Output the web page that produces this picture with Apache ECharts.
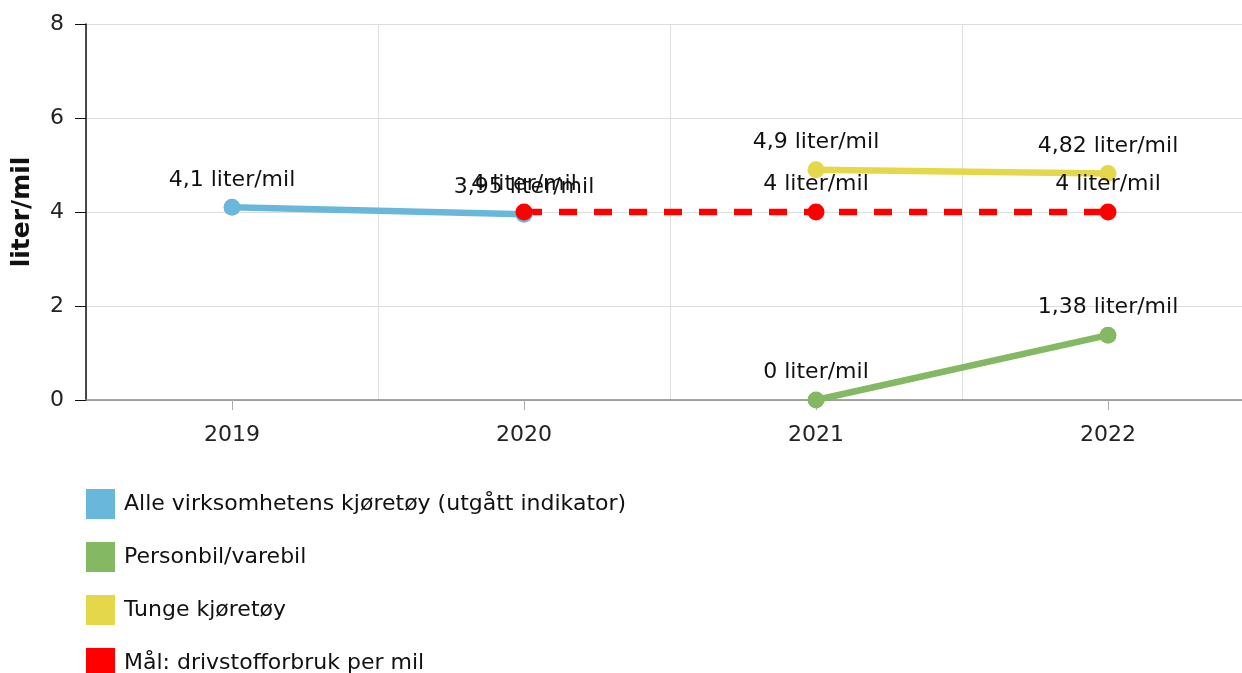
<!DOCTYPE html>
<html>
<head>
<meta charset="utf-8">
<script src="https://cdn.jsdelivr.net/npm/echarts@6/dist/echarts.min.js"></script>
<style>html,body{margin:0;padding:0;background:#fff}#c{width:1242px;height:673px}</style>
</head>
<body>
<div id="c"></div>
<script>
const categories = ['2019', '2020', '2021', '2022'];
const alleValues = [4.1, 3.95, null, null];
const personbilValues = [null, null, 0, 1.38];
const tungeValues = [null, null, 4.9, 4.82];
const maalValues = [null, 4, 4, 4];
const yTicks = [0, 2, 4, 6, 8];
const unit = 'liter/mil';

const FONT = 'DejaVu Sans';
const chart = echarts.init(document.getElementById('c'));

function mk(name, data, color, dashed) {
  return {
    name: name,
    type: 'line',
    data: data,
    symbol: 'circle',
    symbolSize: 17,
    connectNulls: false,
    itemStyle: { color: color },
    lineStyle: { color: color, width: 6.5, type: dashed ? [18, 17] : 'solid' },
    label: {
      show: true,
      position: 'top',
      distance: 8,
      color: '#111',
      fontFamily: FONT,
      fontSize: 22,
      formatter: p => (p.value == null ? '' : String(p.value).replace('.', ',') + ' ' + unit)
    },
    emphasis: { disabled: true },
    animation: false
  };
}

chart.setOption({
  animation: false,
  grid: { left: 86, top: 24, width: 1168, height: 376, outerBoundsMode: 'none', containLabel: false },
  legend: {
    orient: 'vertical',
    left: 86,
    top: 489,
    height: 190,
    padding: 0,
    icon: 'rect',
    itemWidth: 29,
    itemHeight: 30,
    itemGap: 23,
    textStyle: { fontFamily: FONT, fontSize: 22, color: '#111', padding: [0, 0, 0, 4] },
    selectedMode: false
  },
  xAxis: {
    type: 'category',
    data: categories,
    boundaryGap: true,
    axisLine: { lineStyle: { color: '#888', width: 1.5 } },
    axisTick: { show: true, alignWithLabel: true, length: 10, lineStyle: { color: '#aaa' } },
    axisLabel: { fontFamily: FONT, fontSize: 22, color: '#222', margin: 24 },
    splitLine: { show: true, lineStyle: { color: '#e0e0e0', width: 1 } }
  },
  yAxis: {
    type: 'value',
    min: yTicks[0],
    max: yTicks[yTicks.length - 1],
    interval: 2,
    name: unit,
    nameLocation: 'middle',
    nameGap: 51,
    nameTextStyle: { fontFamily: FONT, fontSize: 25, fontWeight: 'bold', color: '#111' },
    axisLine: { show: true, lineStyle: { color: '#111', width: 1.5 } },
    axisTick: { show: true, length: 11, lineStyle: { color: '#111' } },
    axisLabel: { fontFamily: FONT, fontSize: 22, color: '#222', margin: 22 },
    splitLine: { show: true, lineStyle: { color: '#dcdcdc', width: 1 } }
  },
  series: [
    mk('Alle virksomhetens kjøretøy (utgått indikator)', alleValues, '#6ab7dc', false),
    mk('Personbil/varebil', personbilValues, '#85b863', false),
    mk('Tunge kjøretøy', tungeValues, '#e4d84a', false),
    mk('Mål: drivstofforbruk per mil', maalValues, '#ff0000', true)
  ]
});
</script>
</body>
</html>
